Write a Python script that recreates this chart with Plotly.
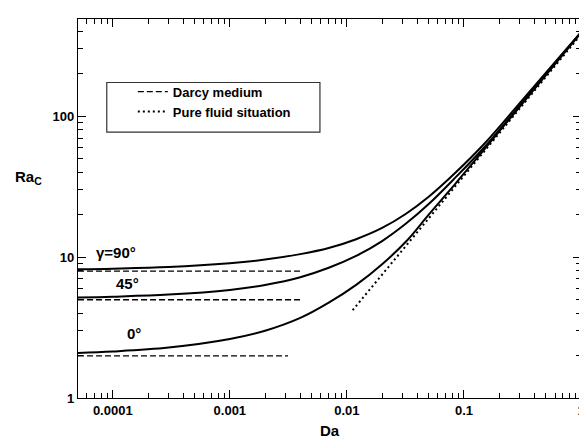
import math
import plotly.graph_objects as go

# Data
da = [5.05e-5, 1e-4, 3e-4, 1e-3, 2e-3, 4e-3, 7e-3, 0.012, 0.02, 0.032, 0.05, 0.084, 0.15, 0.33, 0.6, 1.0]
ra_90 = [8.2, 8.28, 8.5, 9.05, 9.6, 10.5, 11.6, 13.4, 16.1, 20.3, 26.8, 39.5, 64.0, 136.0, 242.0, 395.0]
ra_45 = [5.17, 5.24, 5.42, 5.85, 6.35, 7.2, 8.4, 10.2, 13.0, 17.3, 23.8, 36.5, 60.5, 131.0, 238.0, 393.0]
ra_0 = [2.09, 2.14, 2.28, 2.62, 3.0, 3.7, 4.75, 6.35, 8.9, 12.9, 20.0, 33.0, 58.5, 128.5, 234.0, 392.0]

darcy_90_da = [5.05e-5, 0.0041]
darcy_90 = [7.96, 7.96]
darcy_45_da = [5.05e-5, 0.0041]
darcy_45 = [4.98, 4.98]
darcy_0_da = [5.05e-5, 0.00314]
darcy_0 = [1.99, 1.99]

pure_da = [0.0112, 1.0]
pure_ra = [4.2, 380.0]

x_tickvals = [0.0001, 0.001, 0.01, 0.1, 1]
x_ticktext = ["0.0001", "0.001", "0.01", "0.1", "1"]
y_tickvals = [1, 10, 100]
y_ticktext = ["1", "10", "100"]

curve_labels = ["γ=90°", "45°", "0°"]
label_x = [1.06e-4, 1.34e-4, 1.51e-4]
label_y = [10.7, 6.5, 2.85]

FONT = "Liberation Sans, Arial, sans-serif"

x_minor = [m * 10 ** e for e in range(-5, 0) for m in range(2, 10)]
y_minor = [m * 10 ** e for e in range(0, 3) for m in range(2, 10)]

fig = go.Figure()

for ys in (ra_90, ra_45, ra_0):
    fig.add_trace(go.Scatter(x=da, y=ys, mode="lines",
                             line=dict(color="black", width=2, shape="spline", smoothing=1.0),
                             showlegend=False, hoverinfo="skip"))

first = True
for xs, ys in ((darcy_90_da, darcy_90), (darcy_45_da, darcy_45), (darcy_0_da, darcy_0)):
    fig.add_trace(go.Scatter(x=xs, y=ys, mode="lines", name="Darcy medium",
                             line=dict(color="black", width=1.3, dash="6px,3px"),
                             showlegend=first, legendrank=1))
    first = False

fig.add_trace(go.Scatter(x=pure_da, y=pure_ra, mode="lines", name="Pure fluid situation",
                         line=dict(color="black", width=2, dash="2px,3px"), legendrank=2))

for t, xv, yv in zip(curve_labels, label_x, label_y):
    fig.add_annotation(x=math.log10(xv), y=math.log10(yv), xref="x", yref="y", text=t, showarrow=False,
                       font=dict(family=FONT, size=15, color="black", weight="bold"))

fig.add_annotation(x=-0.13, y=math.log10(37), xref="paper", yref="y", text="Ra<sub>C</sub>", showarrow=False,
                   xanchor="left", font=dict(family=FONT, size=15, color="black", weight="bold"))

# legend box
fig.add_shape(type="rect", xref="paper", yref="paper", x0=0.0572, x1=0.481, y0=0.7016, y1=0.8325,
              line=dict(color="#333333", width=1.2), fillcolor="rgba(0,0,0,0)")

fig.update_layout(
    width=587, height=438,
    margin=dict(l=70, r=10, t=11, b=45),
    plot_bgcolor="white", paper_bgcolor="white",
    font=dict(family=FONT, color="black", size=13, weight="bold"),
    legend=dict(x=0.109, y=0.848, xanchor="left", yanchor="top", bgcolor="rgba(0,0,0,0)",
                borderwidth=0, font=dict(family=FONT, size=13, color="black", weight="bold"),
                tracegroupgap=0, itemwidth=30),
    xaxis=dict(type="log", range=[-4.297, 0], tickvals=x_tickvals, ticktext=x_ticktext,
               showline=True, linecolor="black", linewidth=1.3, mirror="ticks",
               ticks="inside", ticklen=8, tickcolor="black", showgrid=False, zeroline=False,
               minor=dict(ticks="inside", ticklen=5, tickcolor="black", showgrid=False, tickvals=x_minor),
               title=dict(text="Da", font=dict(family=FONT, size=15, weight="bold"), standoff=8),
               tickfont=dict(family=FONT, size=13, weight="bold")),
    yaxis=dict(type="log", range=[0, 2.69], tickvals=y_tickvals, ticktext=y_ticktext,
               showline=True, linecolor="black", linewidth=1.3, mirror="ticks",
               ticks="inside", ticklen=8, tickcolor="black", showgrid=False, zeroline=False,
               minor=dict(ticks="inside", ticklen=5, tickcolor="black", showgrid=False, tickvals=y_minor),
               tickfont=dict(family=FONT, size=13, weight="bold")),
)

fig.write_html("out.html")
